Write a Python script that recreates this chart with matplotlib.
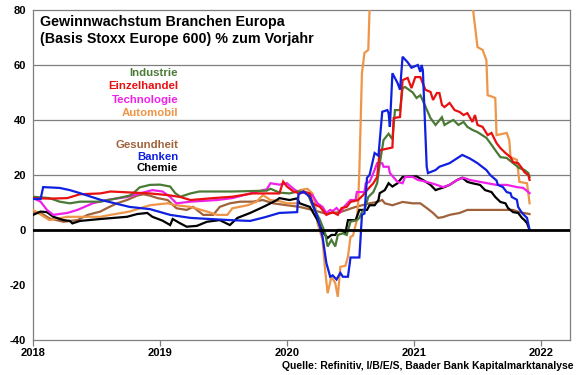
import matplotlib
matplotlib.use("Agg")
import matplotlib.pyplot as plt

plt.rcParams['font.family'] = ['Liberation Sans', 'DejaVu Sans']
plt.rcParams['font.weight'] = 'bold'

# ---- data (decimal year, % y/y) ----
industrie = [(2018.00, 12.1), (2018.13, 11.6), (2018.21, 10.3), (2018.29, 9.7), (2018.37, 10.3), (2018.53, 10.3),
             (2018.71, 12.0), (2018.76, 12.5), (2018.79, 13.4), (2018.84, 15.5), (2018.92, 16.4), (2019.00, 16.5),
             (2019.08, 15.8), (2019.12, 13.4), (2019.16, 12.1), (2019.24, 13.3), (2019.31, 14.0), (2019.57, 14.0),
             (2019.84, 14.3), (2019.87, 15.0), (2019.94, 13.6), (2020.02, 13.3), (2020.08, 14.0), (2020.10, 14.0),
             (2020.16, 13.5), (2020.20, 9.0), (2020.26, 3.6), (2020.30, -1.1), (2020.32, -6.0), (2020.35, -3.6),
             (2020.38, -6.0), (2020.40, -1.8), (2020.44, -1.2), (2020.47, -1.8), (2020.50, 3.0), (2020.55, 3.6),
             (2020.57, 4.4), (2020.59, 6.5), (2020.61, 7.3), (2020.64, 12.0), (2020.68, 13.8), (2020.71, 17.0),
             (2020.73, 24.0), (2020.76, 32.7), (2020.80, 35.0), (2020.83, 33.0), (2020.85, 43.6), (2020.89, 43.6),
             (2020.91, 51.6), (2020.93, 52.0), (2020.99, 50.0), (2021.02, 48.0), (2021.05, 49.0), (2021.07, 47.0),
             (2021.13, 40.7), (2021.17, 38.2), (2021.22, 41.0), (2021.24, 38.2), (2021.28, 39.3), (2021.31, 40.0),
             (2021.35, 38.2), (2021.39, 39.3), (2021.42, 37.5), (2021.46, 36.4), (2021.50, 35.6), (2021.57, 33.5),
             (2021.61, 31.0), (2021.65, 28.4), (2021.68, 26.5), (2021.73, 26.2), (2021.77, 24.7), (2021.83, 22.5),
             (2021.87, 21.8), (2021.90, 20.7), (2021.91, 19.3)]

einzelhandel = [(2018.00, 11.6), (2018.13, 11.4), (2018.27, 11.6), (2018.37, 13.0), (2018.53, 13.3), (2018.61, 14.0),
                (2018.92, 13.3), (2019.06, 12.7), (2019.16, 12.0), (2019.24, 10.9), (2019.42, 11.6), (2019.57, 12.1),
                (2019.73, 13.3), (2019.94, 13.3), (2019.97, 17.6), (2020.00, 15.8), (2020.05, 14.0), (2020.10, 13.3),
                (2020.13, 14.0), (2020.18, 13.3), (2020.20, 9.7), (2020.26, 8.4), (2020.31, 5.5), (2020.36, 6.5),
                (2020.40, 5.5), (2020.43, 8.0), (2020.47, 8.4), (2020.50, 10.2), (2020.56, 10.9), (2020.60, 12.7),
                (2020.63, 14.5), (2020.68, 17.0), (2020.71, 19.3), (2020.73, 29.0), (2020.83, 30.0), (2020.84, 40.7),
                (2020.89, 41.1), (2020.91, 54.5), (2020.95, 55.3), (2020.98, 51.6), (2021.01, 55.6), (2021.05, 55.6),
                (2021.09, 51.0), (2021.13, 50.2), (2021.15, 47.3), (2021.18, 49.8), (2021.20, 49.8), (2021.22, 45.5),
                (2021.24, 44.7), (2021.28, 46.2), (2021.32, 43.6), (2021.36, 42.9), (2021.39, 41.8), (2021.42, 42.5),
                (2021.46, 39.3), (2021.48, 41.8), (2021.50, 38.2), (2021.54, 37.5), (2021.58, 34.5), (2021.61, 35.3),
                (2021.65, 31.6), (2021.68, 29.8), (2021.72, 28.0), (2021.76, 26.5), (2021.78, 24.7), (2021.82, 24.3),
                (2021.85, 22.5), (2021.87, 21.0), (2021.90, 20.0), (2021.91, 18.2)]

technologie = [(2018.00, 11.6), (2018.06, 10.3), (2018.11, 7.3), (2018.16, 5.5), (2018.27, 6.2), (2018.35, 7.3),
               (2018.47, 9.7), (2018.58, 10.9), (2018.74, 12.0), (2018.84, 13.3), (2018.94, 14.5), (2019.02, 14.0),
               (2019.08, 12.0), (2019.13, 9.7), (2019.24, 10.3), (2019.45, 10.9), (2019.57, 11.6), (2019.71, 13.3),
               (2019.84, 14.8), (2019.87, 17.0), (2019.94, 16.5), (2020.00, 17.0), (2020.05, 15.0), (2020.09, 13.8),
               (2020.16, 13.3), (2020.20, 12.7), (2020.24, 9.7), (2020.28, 8.4), (2020.31, 6.2), (2020.34, 7.3),
               (2020.36, 6.9), (2020.39, 8.0), (2020.42, 6.5), (2020.46, 9.0), (2020.50, 10.9), (2020.54, 10.9),
               (2020.55, 13.8), (2020.61, 13.8), (2020.62, 17.0), (2020.65, 17.5), (2020.68, 20.7), (2020.71, 24.3),
               (2020.75, 24.3), (2020.76, 23.0), (2020.80, 23.0), (2020.81, 20.7), (2020.87, 17.5), (2020.91, 17.0),
               (2020.93, 19.3), (2020.99, 19.3), (2021.03, 18.2), (2021.10, 17.5), (2021.18, 16.4), (2021.23, 15.6),
               (2021.28, 16.4), (2021.34, 18.2), (2021.39, 19.0), (2021.44, 18.2), (2021.52, 17.5), (2021.65, 16.4),
               (2021.73, 16.4), (2021.81, 15.6), (2021.86, 15.3), (2021.90, 13.8), (2021.91, 13.4)]

automobil = [(2018.00, 7.3), (2018.13, 3.6), (2018.27, 4.8), (2018.53, 4.8), (2018.61, 5.5), (2018.76, 6.7),
             (2018.92, 9.0), (2019.06, 9.7), (2019.13, 9.0), (2019.24, 8.4), (2019.37, 6.7), (2019.45, 5.5),
             (2019.53, 5.5), (2019.57, 7.9), (2019.69, 9.0), (2019.76, 10.3), (2019.81, 12.7), (2019.87, 10.9),
             (2019.94, 10.5), (2020.00, 9.7), (2020.08, 9.7), (2020.10, 14.5), (2020.16, 15.0), (2020.20, 13.3),
             (2020.22, 9.7), (2020.24, 2.5), (2020.28, -3.6), (2020.30, -14.5), (2020.32, -23.0), (2020.35, -17.0),
             (2020.38, -19.3), (2020.40, -24.3), (2020.42, -13.4), (2020.46, -13.0), (2020.48, -9.7), (2020.50, -2.5),
             (2020.52, -2.0), (2020.55, 3.6), (2020.56, 9.7), (2020.57, 21.8), (2020.59, 57.0), (2020.61, 64.4),
             (2020.64, 65.5), (2020.65, 80.0), (2020.67, 120.0), (2021.44, 120.0), (2021.46, 82.0), (2021.50, 66.5),
             (2021.54, 65.5), (2021.57, 61.8), (2021.58, 49.0), (2021.62, 48.4), (2021.64, 48.0), (2021.65, 34.5),
             (2021.73, 35.3), (2021.75, 32.7), (2021.76, 26.5), (2021.81, 25.5), (2021.83, 17.5), (2021.89, 17.0),
             (2021.91, 9.7)]

gesundheit = [(2018.00, 6.7), (2018.06, 6.2), (2018.13, 4.2), (2018.24, 3.0), (2018.35, 3.6), (2018.43, 5.5),
              (2018.53, 6.7), (2018.58, 7.9), (2018.66, 9.7), (2018.74, 10.9), (2018.82, 12.5), (2018.87, 13.0),
              (2018.92, 12.5), (2018.98, 11.6), (2019.06, 10.9), (2019.13, 7.9), (2019.21, 7.3), (2019.26, 8.4),
              (2019.34, 5.5), (2019.42, 5.5), (2019.47, 8.4), (2019.55, 9.7), (2019.63, 10.3), (2019.73, 10.3),
              (2019.81, 10.9), (2019.89, 9.7), (2020.00, 9.0), (2020.10, 8.4), (2020.20, 7.3), (2020.30, 6.0),
              (2020.42, 6.5), (2020.54, 8.4), (2020.65, 9.7), (2020.71, 10.2), (2020.75, 10.9), (2020.77, 9.7),
              (2020.83, 9.0), (2020.91, 10.2), (2020.99, 9.7), (2021.05, 9.7), (2021.10, 8.0), (2021.15, 6.2),
              (2021.19, 4.4), (2021.23, 4.7), (2021.28, 5.5), (2021.36, 6.2), (2021.42, 7.3), (2021.50, 7.3),
              (2021.57, 7.3), (2021.70, 7.3), (2021.78, 7.3), (2021.83, 6.5), (2021.91, 5.8)]

banken = [(2018.00, 11.3), (2018.06, 11.3), (2018.08, 15.6), (2018.21, 15.3), (2018.29, 14.5), (2018.37, 13.4),
          (2018.53, 11.0), (2018.76, 8.4), (2018.92, 7.6), (2019.08, 5.5), (2019.24, 4.4), (2019.39, 4.0),
          (2019.55, 3.6), (2019.71, 3.3), (2019.83, 4.7), (2019.94, 6.2), (2020.08, 6.5), (2020.09, 13.0),
          (2020.13, 14.0), (2020.18, 12.0), (2020.20, 9.7), (2020.24, 4.7), (2020.28, -2.5), (2020.31, -12.0),
          (2020.34, -17.0), (2020.36, -16.5), (2020.39, -18.0), (2020.42, -15.6), (2020.44, -17.0), (2020.48, -17.0),
          (2020.50, -10.0), (2020.57, -10.0), (2020.59, 5.5), (2020.61, 6.0), (2020.63, 19.0), (2020.65, 20.0),
          (2020.69, 28.0), (2020.72, 27.0), (2020.75, 43.0), (2020.79, 43.6), (2020.80, 42.5), (2020.81, 37.5),
          (2020.83, 57.0), (2020.87, 53.5), (2020.89, 51.0), (2020.91, 63.0), (2020.95, 61.0), (2020.98, 59.0),
          (2021.03, 60.0), (2021.05, 57.5), (2021.06, 60.0), (2021.07, 58.0), (2021.10, 23.0), (2021.11, 20.7),
          (2021.17, 21.8), (2021.20, 23.0), (2021.28, 24.3), (2021.38, 27.3), (2021.44, 26.0), (2021.50, 24.3),
          (2021.57, 21.8), (2021.60, 20.0), (2021.65, 18.0), (2021.66, 16.4), (2021.70, 15.6), (2021.73, 13.8),
          (2021.76, 13.4), (2021.77, 12.0), (2021.81, 11.0), (2021.82, 8.4), (2021.85, 6.2), (2021.89, 4.4),
          (2021.91, 0.0)]

chemie = [(2018.00, 5.5), (2018.06, 6.7), (2018.11, 6.5), (2018.16, 4.8), (2018.24, 3.6), (2018.29, 3.3),
          (2018.31, 2.4), (2018.37, 3.3), (2018.53, 4.0), (2018.74, 4.8), (2018.82, 5.8), (2018.90, 6.2),
          (2018.94, 4.8), (2019.02, 3.4), (2019.08, 1.8), (2019.10, 4.0), (2019.16, 2.4), (2019.21, 1.2),
          (2019.29, 1.5), (2019.37, 3.0), (2019.47, 3.6), (2019.55, 1.8), (2019.61, 4.4), (2019.71, 6.2),
          (2019.79, 7.9), (2019.84, 9.0), (2019.92, 10.9), (2019.94, 11.6), (2020.02, 10.9), (2020.08, 11.5),
          (2020.10, 9.7), (2020.18, 8.4), (2020.24, 3.6), (2020.28, -0.7), (2020.32, -2.9), (2020.35, -1.8),
          (2020.38, -1.8), (2020.40, 0.0), (2020.43, 0.0), (2020.46, -1.1), (2020.48, 3.6), (2020.54, 3.6),
          (2020.57, 7.3), (2020.63, 7.3), (2020.65, 9.0), (2020.69, 9.0), (2020.72, 10.9), (2020.73, 13.4),
          (2020.77, 14.5), (2020.80, 17.0), (2020.83, 15.8), (2020.87, 17.0), (2020.91, 19.3), (2021.02, 19.5),
          (2021.07, 18.2), (2021.13, 16.4), (2021.17, 14.5), (2021.20, 15.0), (2021.24, 15.6), (2021.28, 16.4),
          (2021.34, 18.2), (2021.38, 19.0), (2021.42, 17.5), (2021.46, 17.0), (2021.52, 16.4), (2021.56, 14.5),
          (2021.61, 13.8), (2021.64, 12.0), (2021.68, 10.2), (2021.72, 9.7), (2021.74, 8.0), (2021.78, 6.5),
          (2021.82, 6.2), (2021.85, 4.4), (2021.87, 3.6), (2021.89, 2.5), (2021.91, 0.0)]

series_names = ["Industrie", "Einzelhandel", "Technologie", "Automobil", "Gesundheit", "Banken", "Chemie"]
series_data = [industrie, einzelhandel, technologie, automobil, gesundheit, banken, chemie]
series_colors = ["#4A7A35", "#E81010", "#F020E8", "#EE9548", "#A0623A", "#1020E0", "#000000"]
draw_order = [4, 3, 6, 2, 0, 1, 5]

year_ticks = [2018, 2019, 2020, 2021, 2022]
y_ticks = [-40, -20, 0, 20, 40, 60, 80]

# ---- figure ----
fig = plt.figure(figsize=(5.8, 3.75), dpi=100)
ax = fig.add_axes([33/580, 1-340/375, (570-33)/580, (340-10)/375])

for y in [20, 40, 60]:
    ax.axhline(y, color="#7F7F7F", lw=0.9, zorder=1)
ax.axhline(0, color="black", lw=2.0, zorder=5)

for i in draw_order:
    xs = [p[0] for p in series_data[i]]
    ys = [p[1] for p in series_data[i]]
    ax.plot(xs, ys, color=series_colors[i], lw=1.6, zorder=3, solid_joinstyle='miter')

ax.set_xlim(2018.0, 2018.0 + (570-33)/127)
ax.set_ylim(-40, 80)
ax.set_xticks(year_ticks)
ax.set_xticklabels([str(t) for t in year_ticks])
ax.set_yticks(y_ticks)
ax.set_yticklabels([str(t) for t in y_ticks])
for s in ax.spines.values():
    s.set_color("#7F7F7F")
    s.set_linewidth(0.9)
ax.tick_params(axis='x', length=4, width=0.9, color="#7F7F7F", labelsize=8, pad=2)
ax.tick_params(axis='y', length=0, labelsize=8, pad=5)
for lab in ax.get_xticklabels() + ax.get_yticklabels():
    lab.set_fontweight('bold')

# title
fig.text(40/580, 1-22/375, "Gewinnwachstum Branchen Europa", fontsize=10.3, fontweight='bold', va='center', ha='left')
fig.text(40/580, 1-39/375, "(Basis Stoxx Europe 600) % zum Vorjahr", fontsize=10.3, fontweight='bold', va='center', ha='left')

# legend as coloured text
legend_y = [73, 86, 100, 113, 145, 157, 168]
for name, col, yy in zip(series_names, series_colors, legend_y):
    fig.text(178/580, 1-yy/375, name, color=col, fontsize=8.2, fontweight='bold', ha='right', va='center')

fig.text(573/580, 1-366/375, "Quelle: Refinitiv, I/B/E/S, Baader Bank Kapitalmarktanalyse",
         fontsize=7.5, fontweight='bold', ha='right', va='center')

fig.savefig("out.png", dpi=100)
